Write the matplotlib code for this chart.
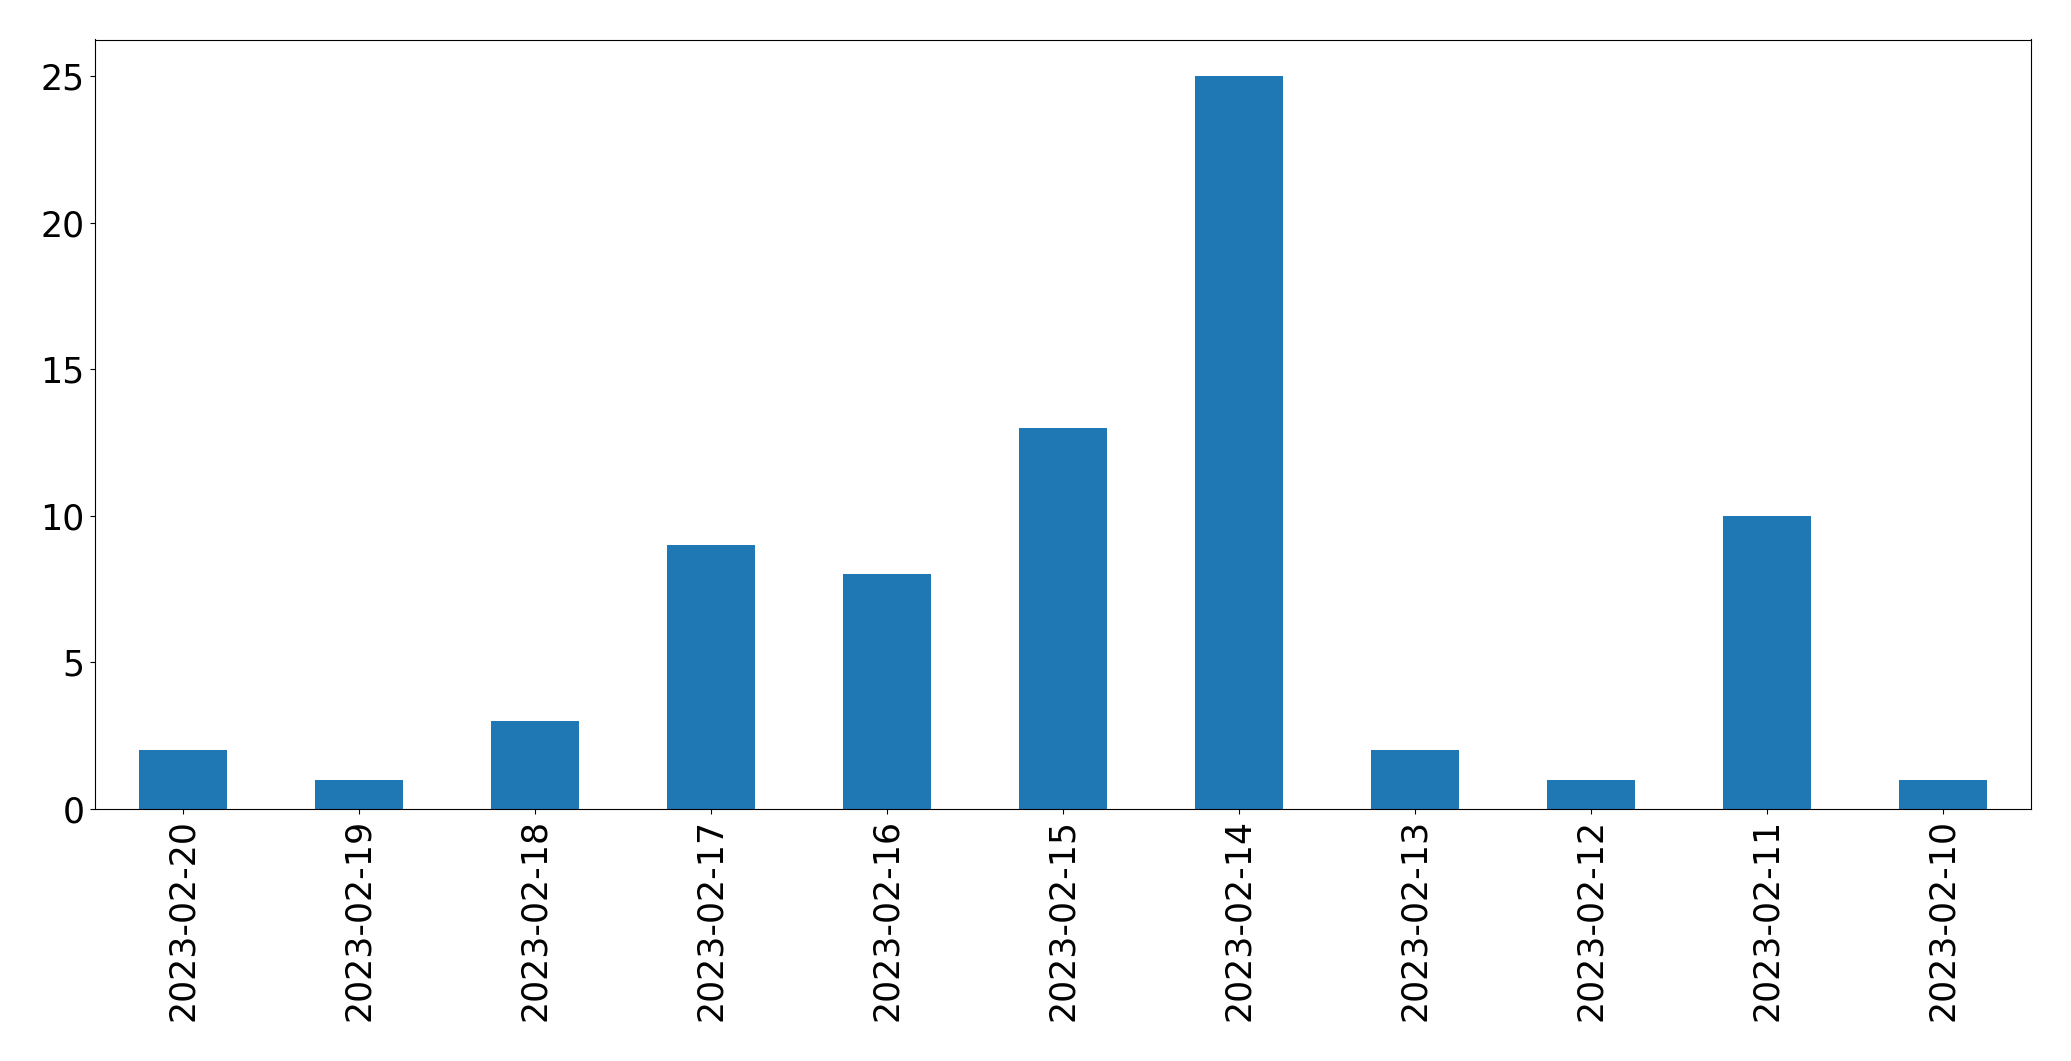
import matplotlib
matplotlib.use("Agg")
import matplotlib.pyplot as plt
import pandas as pd

dates = ["2023-02-20", "2023-02-19", "2023-02-18", "2023-02-17", "2023-02-16",
         "2023-02-15", "2023-02-14", "2023-02-13", "2023-02-12", "2023-02-11",
         "2023-02-10"]
counts = [2, 1, 3, 9, 8, 13, 25, 2, 1, 10, 1]

series = pd.Series(counts, index=dates)

fig, ax = plt.subplots(figsize=(20.71, 10.61), dpi=100)
series.plot(kind="bar", ax=ax, color="#1f77b4", fontsize=25)
ax.set_yticks([0, 5, 10, 15, 20, 25])

W, H = 2071, 1061
fig.subplots_adjust(left=94.5 / W, right=2031 / W, top=1 - 39.5 / H, bottom=1 - 809 / H)
fig.savefig("out.png", dpi=100)
